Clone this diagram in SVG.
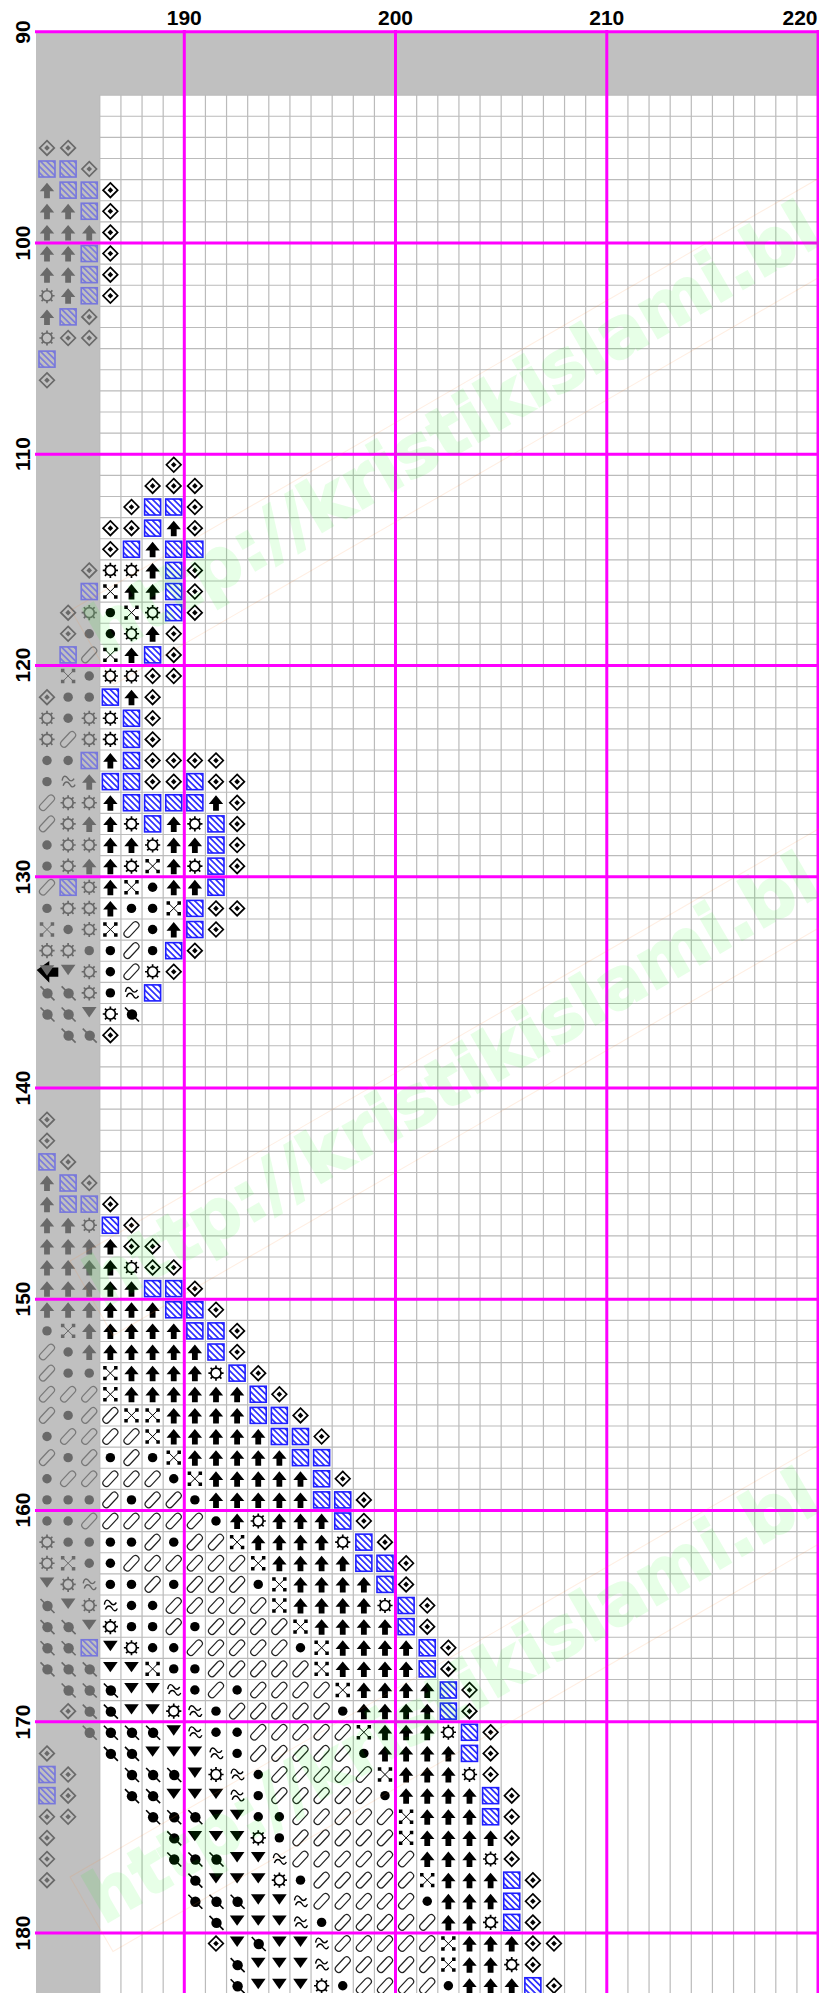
<svg xmlns="http://www.w3.org/2000/svg" width="819" height="1993" viewBox="0 0 819 1993">
<style>
text{font-family:"Liberation Sans",Arial,sans-serif;font-weight:bold;font-size:21px;fill:#000}
.wm{font-family:"DejaVu Sans",Verdana,sans-serif;font-size:70px;fill:#0f0;stroke:#0f0;stroke-width:2;opacity:.09}
.wr{fill:none;stroke:#ff8a30;stroke-width:1;opacity:.14}
.m{stroke:#f0f;stroke-width:3;fill:none}
</style>
<defs>
<pattern id="h" patternUnits="userSpaceOnUse" width="4.4" height="4.4" patternTransform="rotate(-45)"><rect width="1.7" height="4.4" fill="#2a2aff"/></pattern>
<g id="D" transform="scale(.047337)"><path d="M0-7.3 7.3 0 0 7.3-7.3 0Z" fill="#fff" fill-opacity=".0" stroke="#000" stroke-width="1.7"/><path d="M0-2.8 2.8 0 0 2.8-2.8 0Z"/></g>
<g id="B" transform="scale(.047337)"><rect x="-8" y="-8" width="16" height="16" fill="url(#h)" stroke="#1f1fff" stroke-width="1.6"/></g>
<path id="A" transform="scale(.047337)" d="M0-7.5 7.2 1.2H2.9V8H-2.9V1.2H-7.2Z"/>
<g id="S" transform="scale(.047337)"><circle r="5" fill="none" stroke="#000" stroke-width="1.7"/><path d="M0-5V-7.6M0 5V7.6M-5 0H-7.6M5 0H7.6M3.5-3.5 5.4-5.4M-3.5-3.5-5.4-5.4M3.5 3.5 5.4 5.4M-3.5 3.5-5.4 5.4" stroke="#000" stroke-width="1.7"/></g>
<g id="X" transform="scale(.047337)"><path d="M-5.5-5.5 5.5 5.5M5.5-5.5-5.5 5.5" stroke="#000" stroke-width="1"/><path d="M-7.2-7.2h3.5v3.5h-3.5zM3.7-7.2h3.5v3.5h-3.5zM-7.2 3.7h3.5v3.5h-3.5zM3.7 3.7h3.5v3.5h-3.5z"/></g>
<circle id="O" r=".224"/>
<rect id="P" transform="scale(.047337) rotate(-47)" x="-9.3" y="-3.5" width="18.6" height="7" rx="3.5" fill="none" stroke="#222" stroke-width="1.2"/>
<path id="W" transform="scale(.047337)" d="M-6-1C-5-7-2-6 0-3S4 0 6-3M-5 4C-3-1 0 0 1.5 2.5S5 7 7 3" fill="none" stroke="#000" stroke-width="1.4"/>
<path id="V" transform="scale(.047337)" d="M-7.3-7H7.3L0 3.4Z"/>
<g id="L" transform="scale(.047337)"><circle cx=".5" cy=".5" r="5.2"/><path d="M-6.5-6.5 7.5 7.5" stroke="#000" stroke-width="1.6"/></g>
</defs>
<rect width="819" height="1993" fill="#fff"/>
<path id="shade" d="M36 32H819V95H100V1993H36Z" fill="#c0c0c0"/>
<path id="grid" fill="none" stroke="#bbb" stroke-width="1.2" d="M99.8 95.1V1993m21.125-1897.9V1993m21.125-1897.9V1993m21.125-1897.9V1993m21.125-1897.9V1993m21.125-1897.9V1993m21.125-1897.9V1993m21.125-1897.9V1993m21.125-1897.9V1993m21.125-1897.9V1993m21.125-1897.9V1993m21.125-1897.9V1993m21.125-1897.9V1993m21.125-1897.9V1993m21.125-1897.9V1993m21.125-1897.9V1993m21.125-1897.9V1993m21.125-1897.9V1993m21.125-1897.9V1993m21.125-1897.9V1993m21.125-1897.9V1993m21.125-1897.9V1993m21.125-1897.9V1993m21.125-1897.9V1993m21.125-1897.9V1993m21.125-1897.9V1993m21.125-1897.9V1993m21.125-1897.9V1993m21.125-1897.9V1993m21.125-1897.9V1993m21.125-1897.9V1993m21.125-1897.9V1993m21.125-1897.9V1993m21.125-1897.9V1993m21.125-1897.9V1993M99.8 95.1H819m-719.2 21.125H819m-719.2 21.125H819m-719.2 21.125H819m-719.2 21.125H819m-719.2 21.125H819m-719.2 21.125H819m-719.2 21.125H819m-719.2 21.125H819m-719.2 21.125H819m-719.2 21.125H819m-719.2 21.125H819m-719.2 21.125H819m-719.2 21.125H819m-719.2 21.125H819m-719.2 21.125H819m-719.2 21.125H819m-719.2 21.125H819m-719.2 21.125H819m-719.2 21.125H819m-719.2 21.125H819m-719.2 21.125H819m-719.2 21.125H819m-719.2 21.125H819m-719.2 21.125H819m-719.2 21.125H819m-719.2 21.125H819m-719.2 21.125H819m-719.2 21.125H819m-719.2 21.125H819m-719.2 21.125H819m-719.2 21.125H819m-719.2 21.125H819m-719.2 21.125H819m-719.2 21.125H819m-719.2 21.125H819m-719.2 21.125H819m-719.2 21.125H819m-719.2 21.125H819m-719.2 21.125H819m-719.2 21.125H819m-719.2 21.125H819m-719.2 21.125H819m-719.2 21.125H819m-719.2 21.125H819m-719.2 21.125H819m-719.2 21.125H819m-719.2 21.125H819m-719.2 21.125H819m-719.2 21.125H819m-719.2 21.125H819m-719.2 21.125H819m-719.2 21.125H819m-719.2 21.125H819m-719.2 21.125H819m-719.2 21.125H819m-719.2 21.125H819m-719.2 21.125H819m-719.2 21.125H819m-719.2 21.125H819m-719.2 21.125H819m-719.2 21.125H819m-719.2 21.125H819m-719.2 21.125H819m-719.2 21.125H819m-719.2 21.125H819m-719.2 21.125H819m-719.2 21.125H819m-719.2 21.125H819m-719.2 21.125H819m-719.2 21.125H819m-719.2 21.125H819m-719.2 21.125H819m-719.2 21.125H819m-719.2 21.125H819m-719.2 21.125H819m-719.2 21.125H819m-719.2 21.125H819"/>
<polygon id="cursor" points="36.7,970 49.3,961 49.3,967.5 58.3,967.5 58.3,976.7 49.3,976.7 49.3,982.7"/>
<use href="#V" transform="translate(47 972.3) scale(21.125)" fill="#6a6a6a"/>
<g id="faded" opacity=".45" transform="translate(46.99 42.26) scale(21.125)">
<g transform="translate(0 5)"><use href="#D" x="0"/><use href="#D" x="1"/></g>
<g transform="translate(0 6)"><use href="#B" x="0"/><use href="#B" x="1"/><use href="#D" x="2"/></g>
<g transform="translate(0 7)"><use href="#A" x="0"/><use href="#B" x="1"/><use href="#B" x="2"/></g>
<g transform="translate(0 8)"><use href="#A" x="0"/><use href="#A" x="1"/><use href="#B" x="2"/></g>
<g transform="translate(0 9)"><use href="#A" x="0"/><use href="#A" x="1"/><use href="#A" x="2"/></g>
<g transform="translate(0 10)"><use href="#A" x="0"/><use href="#A" x="1"/><use href="#B" x="2"/></g>
<g transform="translate(0 11)"><use href="#A" x="0"/><use href="#A" x="1"/><use href="#B" x="2"/></g>
<g transform="translate(0 12)"><use href="#S" x="0"/><use href="#A" x="1"/><use href="#B" x="2"/></g>
<g transform="translate(0 13)"><use href="#A" x="0"/><use href="#B" x="1"/><use href="#D" x="2"/></g>
<g transform="translate(0 14)"><use href="#S" x="0"/><use href="#D" x="1"/><use href="#D" x="2"/></g>
<g transform="translate(0 15)"><use href="#B" x="0"/></g>
<g transform="translate(0 16)"><use href="#D" x="0"/></g>
<g transform="translate(0 25)"><use href="#D" x="2"/></g>
<g transform="translate(0 26)"><use href="#B" x="2"/></g>
<g transform="translate(0 27)"><use href="#D" x="1"/><use href="#S" x="2"/></g>
<g transform="translate(0 28)"><use href="#D" x="1"/><use href="#O" x="2"/></g>
<g transform="translate(0 29)"><use href="#B" x="1"/><use href="#P" x="2"/></g>
<g transform="translate(0 30)"><use href="#X" x="1"/><use href="#O" x="2"/></g>
<g transform="translate(0 31)"><use href="#D" x="0"/><use href="#O" x="1"/><use href="#O" x="2"/></g>
<g transform="translate(0 32)"><use href="#S" x="0"/><use href="#O" x="1"/><use href="#S" x="2"/></g>
<g transform="translate(0 33)"><use href="#S" x="0"/><use href="#P" x="1"/><use href="#S" x="2"/></g>
<g transform="translate(0 34)"><use href="#O" x="0"/><use href="#O" x="1"/><use href="#B" x="2"/></g>
<g transform="translate(0 35)"><use href="#O" x="0"/><use href="#W" x="1"/><use href="#A" x="2"/></g>
<g transform="translate(0 36)"><use href="#P" x="0"/><use href="#S" x="1"/><use href="#S" x="2"/></g>
<g transform="translate(0 37)"><use href="#P" x="0"/><use href="#S" x="1"/><use href="#A" x="2"/></g>
<g transform="translate(0 38)"><use href="#O" x="0"/><use href="#S" x="1"/><use href="#S" x="2"/></g>
<g transform="translate(0 39)"><use href="#O" x="0"/><use href="#S" x="1"/><use href="#A" x="2"/></g>
<g transform="translate(0 40)"><use href="#P" x="0"/><use href="#B" x="1"/><use href="#S" x="2"/></g>
<g transform="translate(0 41)"><use href="#O" x="0"/><use href="#S" x="1"/><use href="#S" x="2"/></g>
<g transform="translate(0 42)"><use href="#X" x="0"/><use href="#O" x="1"/><use href="#S" x="2"/></g>
<g transform="translate(0 43)"><use href="#S" x="0"/><use href="#S" x="1"/><use href="#O" x="2"/></g>
<g transform="translate(0 44)"><use href="#V" x="1"/><use href="#S" x="2"/></g>
<g transform="translate(0 45)"><use href="#L" x="0"/><use href="#L" x="1"/><use href="#S" x="2"/></g>
<g transform="translate(0 46)"><use href="#L" x="0"/><use href="#L" x="1"/><use href="#V" x="2"/></g>
<g transform="translate(0 47)"><use href="#L" x="1"/><use href="#L" x="2"/></g>
<g transform="translate(0 51)"><use href="#D" x="0"/></g>
<g transform="translate(0 52)"><use href="#D" x="0"/></g>
<g transform="translate(0 53)"><use href="#B" x="0"/><use href="#D" x="1"/></g>
<g transform="translate(0 54)"><use href="#A" x="0"/><use href="#B" x="1"/><use href="#D" x="2"/></g>
<g transform="translate(0 55)"><use href="#A" x="0"/><use href="#B" x="1"/><use href="#B" x="2"/></g>
<g transform="translate(0 56)"><use href="#A" x="0"/><use href="#A" x="1"/><use href="#S" x="2"/></g>
<g transform="translate(0 57)"><use href="#A" x="0"/><use href="#A" x="1"/><use href="#A" x="2"/></g>
<g transform="translate(0 58)"><use href="#A" x="0"/><use href="#A" x="1"/><use href="#A" x="2"/></g>
<g transform="translate(0 59)"><use href="#A" x="0"/><use href="#A" x="1"/><use href="#A" x="2"/></g>
<g transform="translate(0 60)"><use href="#A" x="0"/><use href="#A" x="1"/><use href="#A" x="2"/></g>
<g transform="translate(0 61)"><use href="#O" x="0"/><use href="#X" x="1"/><use href="#A" x="2"/></g>
<g transform="translate(0 62)"><use href="#P" x="0"/><use href="#O" x="1"/><use href="#A" x="2"/></g>
<g transform="translate(0 63)"><use href="#P" x="0"/><use href="#O" x="1"/><use href="#O" x="2"/></g>
<g transform="translate(0 64)"><use href="#P" x="0"/><use href="#P" x="1"/><use href="#P" x="2"/></g>
<g transform="translate(0 65)"><use href="#P" x="0"/><use href="#O" x="1"/><use href="#P" x="2"/></g>
<g transform="translate(0 66)"><use href="#O" x="0"/><use href="#P" x="1"/><use href="#P" x="2"/></g>
<g transform="translate(0 67)"><use href="#P" x="0"/><use href="#O" x="1"/><use href="#P" x="2"/></g>
<g transform="translate(0 68)"><use href="#O" x="0"/><use href="#P" x="1"/><use href="#P" x="2"/></g>
<g transform="translate(0 69)"><use href="#O" x="0"/><use href="#O" x="1"/><use href="#O" x="2"/></g>
<g transform="translate(0 70)"><use href="#O" x="0"/><use href="#O" x="1"/><use href="#P" x="2"/></g>
<g transform="translate(0 71)"><use href="#S" x="0"/><use href="#O" x="1"/><use href="#O" x="2"/></g>
<g transform="translate(0 72)"><use href="#S" x="0"/><use href="#X" x="1"/><use href="#O" x="2"/></g>
<g transform="translate(0 73)"><use href="#V" x="0"/><use href="#S" x="1"/><use href="#W" x="2"/></g>
<g transform="translate(0 74)"><use href="#L" x="0"/><use href="#V" x="1"/><use href="#S" x="2"/></g>
<g transform="translate(0 75)"><use href="#L" x="0"/><use href="#L" x="1"/><use href="#V" x="2"/></g>
<g transform="translate(0 76)"><use href="#L" x="0"/><use href="#L" x="1"/><use href="#B" x="2"/></g>
<g transform="translate(0 77)"><use href="#L" x="0"/><use href="#L" x="1"/><use href="#L" x="2"/></g>
<g transform="translate(0 78)"><use href="#L" x="1"/><use href="#L" x="2"/></g>
<g transform="translate(0 79)"><use href="#D" x="1"/><use href="#L" x="2"/></g>
<g transform="translate(0 80)"><use href="#L" x="2"/></g>
<g transform="translate(0 81)"><use href="#D" x="0"/></g>
<g transform="translate(0 82)"><use href="#B" x="0"/><use href="#D" x="1"/></g>
<g transform="translate(0 83)"><use href="#B" x="0"/><use href="#D" x="1"/></g>
<g transform="translate(0 84)"><use href="#D" x="0"/><use href="#D" x="1"/></g>
<g transform="translate(0 85)"><use href="#D" x="0"/></g>
<g transform="translate(0 86)"><use href="#D" x="0"/></g>
<g transform="translate(0 87)"><use href="#D" x="0"/></g>
</g>
<g id="symbols" transform="translate(46.99 42.26) scale(21.125)">
<g transform="translate(0 7)"><use href="#D" x="3"/></g>
<g transform="translate(0 8)"><use href="#D" x="3"/></g>
<g transform="translate(0 9)"><use href="#D" x="3"/></g>
<g transform="translate(0 10)"><use href="#D" x="3"/></g>
<g transform="translate(0 11)"><use href="#D" x="3"/></g>
<g transform="translate(0 12)"><use href="#D" x="3"/></g>
<g transform="translate(0 20)"><use href="#D" x="6"/></g>
<g transform="translate(0 21)"><use href="#D" x="5"/><use href="#D" x="6"/><use href="#D" x="7"/></g>
<g transform="translate(0 22)"><use href="#D" x="4"/><use href="#B" x="5"/><use href="#B" x="6"/><use href="#D" x="7"/></g>
<g transform="translate(0 23)"><use href="#D" x="3"/><use href="#D" x="4"/><use href="#B" x="5"/><use href="#A" x="6"/><use href="#D" x="7"/></g>
<g transform="translate(0 24)"><use href="#D" x="3"/><use href="#B" x="4"/><use href="#A" x="5"/><use href="#B" x="6"/><use href="#B" x="7"/></g>
<g transform="translate(0 25)"><use href="#S" x="3"/><use href="#S" x="4"/><use href="#A" x="5"/><use href="#B" x="6"/><use href="#D" x="7"/></g>
<g transform="translate(0 26)"><use href="#X" x="3"/><use href="#A" x="4"/><use href="#A" x="5"/><use href="#B" x="6"/><use href="#D" x="7"/></g>
<g transform="translate(0 27)"><use href="#O" x="3"/><use href="#X" x="4"/><use href="#S" x="5"/><use href="#B" x="6"/><use href="#D" x="7"/></g>
<g transform="translate(0 28)"><use href="#O" x="3"/><use href="#S" x="4"/><use href="#A" x="5"/><use href="#D" x="6"/></g>
<g transform="translate(0 29)"><use href="#X" x="3"/><use href="#A" x="4"/><use href="#B" x="5"/><use href="#D" x="6"/></g>
<g transform="translate(0 30)"><use href="#S" x="3"/><use href="#S" x="4"/><use href="#D" x="5"/><use href="#D" x="6"/></g>
<g transform="translate(0 31)"><use href="#B" x="3"/><use href="#A" x="4"/><use href="#D" x="5"/></g>
<g transform="translate(0 32)"><use href="#S" x="3"/><use href="#B" x="4"/><use href="#D" x="5"/></g>
<g transform="translate(0 33)"><use href="#S" x="3"/><use href="#B" x="4"/><use href="#D" x="5"/></g>
<g transform="translate(0 34)"><use href="#A" x="3"/><use href="#B" x="4"/><use href="#D" x="5"/><use href="#D" x="6"/><use href="#D" x="7"/><use href="#D" x="8"/></g>
<g transform="translate(0 35)"><use href="#B" x="3"/><use href="#B" x="4"/><use href="#D" x="5"/><use href="#D" x="6"/><use href="#B" x="7"/><use href="#D" x="8"/><use href="#D" x="9"/></g>
<g transform="translate(0 36)"><use href="#A" x="3"/><use href="#B" x="4"/><use href="#B" x="5"/><use href="#B" x="6"/><use href="#B" x="7"/><use href="#A" x="8"/><use href="#D" x="9"/></g>
<g transform="translate(0 37)"><use href="#A" x="3"/><use href="#S" x="4"/><use href="#B" x="5"/><use href="#A" x="6"/><use href="#S" x="7"/><use href="#B" x="8"/><use href="#D" x="9"/></g>
<g transform="translate(0 38)"><use href="#A" x="3"/><use href="#A" x="4"/><use href="#S" x="5"/><use href="#A" x="6"/><use href="#A" x="7"/><use href="#B" x="8"/><use href="#D" x="9"/></g>
<g transform="translate(0 39)"><use href="#A" x="3"/><use href="#S" x="4"/><use href="#X" x="5"/><use href="#A" x="6"/><use href="#S" x="7"/><use href="#B" x="8"/><use href="#D" x="9"/></g>
<g transform="translate(0 40)"><use href="#A" x="3"/><use href="#X" x="4"/><use href="#O" x="5"/><use href="#A" x="6"/><use href="#A" x="7"/><use href="#B" x="8"/></g>
<g transform="translate(0 41)"><use href="#A" x="3"/><use href="#O" x="4"/><use href="#O" x="5"/><use href="#X" x="6"/><use href="#B" x="7"/><use href="#D" x="8"/><use href="#D" x="9"/></g>
<g transform="translate(0 42)"><use href="#X" x="3"/><use href="#P" x="4"/><use href="#O" x="5"/><use href="#A" x="6"/><use href="#B" x="7"/><use href="#D" x="8"/></g>
<g transform="translate(0 43)"><use href="#O" x="3"/><use href="#P" x="4"/><use href="#O" x="5"/><use href="#B" x="6"/><use href="#D" x="7"/></g>
<g transform="translate(0 44)"><use href="#O" x="3"/><use href="#P" x="4"/><use href="#S" x="5"/><use href="#D" x="6"/></g>
<g transform="translate(0 45)"><use href="#O" x="3"/><use href="#W" x="4"/><use href="#B" x="5"/></g>
<g transform="translate(0 46)"><use href="#S" x="3"/><use href="#L" x="4"/></g>
<g transform="translate(0 47)"><use href="#D" x="3"/></g>
<g transform="translate(0 55)"><use href="#D" x="3"/></g>
<g transform="translate(0 56)"><use href="#B" x="3"/><use href="#D" x="4"/></g>
<g transform="translate(0 57)"><use href="#A" x="3"/><use href="#D" x="4"/><use href="#D" x="5"/></g>
<g transform="translate(0 58)"><use href="#A" x="3"/><use href="#S" x="4"/><use href="#D" x="5"/><use href="#D" x="6"/></g>
<g transform="translate(0 59)"><use href="#A" x="3"/><use href="#A" x="4"/><use href="#B" x="5"/><use href="#B" x="6"/><use href="#D" x="7"/></g>
<g transform="translate(0 60)"><use href="#A" x="3"/><use href="#A" x="4"/><use href="#A" x="5"/><use href="#B" x="6"/><use href="#B" x="7"/><use href="#D" x="8"/></g>
<g transform="translate(0 61)"><use href="#A" x="3"/><use href="#A" x="4"/><use href="#A" x="5"/><use href="#A" x="6"/><use href="#B" x="7"/><use href="#B" x="8"/><use href="#D" x="9"/></g>
<g transform="translate(0 62)"><use href="#A" x="3"/><use href="#A" x="4"/><use href="#A" x="5"/><use href="#A" x="6"/><use href="#A" x="7"/><use href="#B" x="8"/><use href="#D" x="9"/></g>
<g transform="translate(0 63)"><use href="#X" x="3"/><use href="#A" x="4"/><use href="#A" x="5"/><use href="#A" x="6"/><use href="#A" x="7"/><use href="#S" x="8"/><use href="#B" x="9"/><use href="#D" x="10"/></g>
<g transform="translate(0 64)"><use href="#X" x="3"/><use href="#A" x="4"/><use href="#A" x="5"/><use href="#A" x="6"/><use href="#A" x="7"/><use href="#A" x="8"/><use href="#A" x="9"/><use href="#B" x="10"/><use href="#D" x="11"/></g>
<g transform="translate(0 65)"><use href="#P" x="3"/><use href="#X" x="4"/><use href="#X" x="5"/><use href="#A" x="6"/><use href="#A" x="7"/><use href="#A" x="8"/><use href="#A" x="9"/><use href="#B" x="10"/><use href="#B" x="11"/><use href="#D" x="12"/></g>
<g transform="translate(0 66)"><use href="#P" x="3"/><use href="#P" x="4"/><use href="#X" x="5"/><use href="#A" x="6"/><use href="#A" x="7"/><use href="#A" x="8"/><use href="#A" x="9"/><use href="#A" x="10"/><use href="#B" x="11"/><use href="#B" x="12"/><use href="#D" x="13"/></g>
<g transform="translate(0 67)"><use href="#O" x="3"/><use href="#P" x="4"/><use href="#O" x="5"/><use href="#X" x="6"/><use href="#A" x="7"/><use href="#A" x="8"/><use href="#A" x="9"/><use href="#A" x="10"/><use href="#A" x="11"/><use href="#B" x="12"/><use href="#B" x="13"/></g>
<g transform="translate(0 68)"><use href="#P" x="3"/><use href="#P" x="4"/><use href="#P" x="5"/><use href="#O" x="6"/><use href="#X" x="7"/><use href="#A" x="8"/><use href="#A" x="9"/><use href="#A" x="10"/><use href="#A" x="11"/><use href="#A" x="12"/><use href="#B" x="13"/><use href="#D" x="14"/></g>
<g transform="translate(0 69)"><use href="#P" x="3"/><use href="#O" x="4"/><use href="#P" x="5"/><use href="#P" x="6"/><use href="#O" x="7"/><use href="#A" x="8"/><use href="#A" x="9"/><use href="#A" x="10"/><use href="#A" x="11"/><use href="#A" x="12"/><use href="#B" x="13"/><use href="#B" x="14"/><use href="#D" x="15"/></g>
<g transform="translate(0 70)"><use href="#P" x="3"/><use href="#P" x="4"/><use href="#P" x="5"/><use href="#P" x="6"/><use href="#P" x="7"/><use href="#O" x="8"/><use href="#A" x="9"/><use href="#S" x="10"/><use href="#A" x="11"/><use href="#A" x="12"/><use href="#A" x="13"/><use href="#B" x="14"/><use href="#D" x="15"/></g>
<g transform="translate(0 71)"><use href="#O" x="3"/><use href="#O" x="4"/><use href="#P" x="5"/><use href="#O" x="6"/><use href="#P" x="7"/><use href="#P" x="8"/><use href="#X" x="9"/><use href="#A" x="10"/><use href="#A" x="11"/><use href="#A" x="12"/><use href="#A" x="13"/><use href="#S" x="14"/><use href="#B" x="15"/><use href="#D" x="16"/></g>
<g transform="translate(0 72)"><use href="#O" x="3"/><use href="#P" x="4"/><use href="#P" x="5"/><use href="#P" x="6"/><use href="#P" x="7"/><use href="#P" x="8"/><use href="#P" x="9"/><use href="#X" x="10"/><use href="#A" x="11"/><use href="#A" x="12"/><use href="#A" x="13"/><use href="#A" x="14"/><use href="#B" x="15"/><use href="#B" x="16"/><use href="#D" x="17"/></g>
<g transform="translate(0 73)"><use href="#O" x="3"/><use href="#O" x="4"/><use href="#P" x="5"/><use href="#O" x="6"/><use href="#P" x="7"/><use href="#P" x="8"/><use href="#P" x="9"/><use href="#O" x="10"/><use href="#X" x="11"/><use href="#A" x="12"/><use href="#A" x="13"/><use href="#A" x="14"/><use href="#A" x="15"/><use href="#B" x="16"/><use href="#D" x="17"/></g>
<g transform="translate(0 74)"><use href="#W" x="3"/><use href="#O" x="4"/><use href="#O" x="5"/><use href="#P" x="6"/><use href="#P" x="7"/><use href="#P" x="8"/><use href="#P" x="9"/><use href="#P" x="10"/><use href="#X" x="11"/><use href="#A" x="12"/><use href="#A" x="13"/><use href="#A" x="14"/><use href="#A" x="15"/><use href="#S" x="16"/><use href="#B" x="17"/><use href="#D" x="18"/></g>
<g transform="translate(0 75)"><use href="#S" x="3"/><use href="#O" x="4"/><use href="#O" x="5"/><use href="#P" x="6"/><use href="#O" x="7"/><use href="#P" x="8"/><use href="#P" x="9"/><use href="#P" x="10"/><use href="#P" x="11"/><use href="#X" x="12"/><use href="#A" x="13"/><use href="#A" x="14"/><use href="#A" x="15"/><use href="#A" x="16"/><use href="#B" x="17"/><use href="#D" x="18"/></g>
<g transform="translate(0 76)"><use href="#V" x="3"/><use href="#S" x="4"/><use href="#O" x="5"/><use href="#O" x="6"/><use href="#P" x="7"/><use href="#P" x="8"/><use href="#P" x="9"/><use href="#P" x="10"/><use href="#P" x="11"/><use href="#O" x="12"/><use href="#X" x="13"/><use href="#A" x="14"/><use href="#A" x="15"/><use href="#A" x="16"/><use href="#A" x="17"/><use href="#B" x="18"/><use href="#D" x="19"/></g>
<g transform="translate(0 77)"><use href="#V" x="3"/><use href="#V" x="4"/><use href="#X" x="5"/><use href="#O" x="6"/><use href="#O" x="7"/><use href="#P" x="8"/><use href="#P" x="9"/><use href="#P" x="10"/><use href="#P" x="11"/><use href="#P" x="12"/><use href="#X" x="13"/><use href="#A" x="14"/><use href="#A" x="15"/><use href="#A" x="16"/><use href="#A" x="17"/><use href="#B" x="18"/><use href="#D" x="19"/></g>
<g transform="translate(0 78)"><use href="#L" x="3"/><use href="#V" x="4"/><use href="#V" x="5"/><use href="#W" x="6"/><use href="#O" x="7"/><use href="#P" x="8"/><use href="#O" x="9"/><use href="#P" x="10"/><use href="#P" x="11"/><use href="#P" x="12"/><use href="#P" x="13"/><use href="#X" x="14"/><use href="#A" x="15"/><use href="#A" x="16"/><use href="#A" x="17"/><use href="#A" x="18"/><use href="#B" x="19"/><use href="#D" x="20"/></g>
<g transform="translate(0 79)"><use href="#L" x="3"/><use href="#V" x="4"/><use href="#V" x="5"/><use href="#S" x="6"/><use href="#W" x="7"/><use href="#O" x="8"/><use href="#P" x="9"/><use href="#P" x="10"/><use href="#P" x="11"/><use href="#P" x="12"/><use href="#P" x="13"/><use href="#O" x="14"/><use href="#A" x="15"/><use href="#A" x="16"/><use href="#A" x="17"/><use href="#A" x="18"/><use href="#B" x="19"/><use href="#D" x="20"/></g>
<g transform="translate(0 80)"><use href="#L" x="3"/><use href="#L" x="4"/><use href="#L" x="5"/><use href="#V" x="6"/><use href="#W" x="7"/><use href="#O" x="8"/><use href="#O" x="9"/><use href="#P" x="10"/><use href="#P" x="11"/><use href="#P" x="12"/><use href="#P" x="13"/><use href="#P" x="14"/><use href="#X" x="15"/><use href="#A" x="16"/><use href="#A" x="17"/><use href="#A" x="18"/><use href="#S" x="19"/><use href="#B" x="20"/><use href="#D" x="21"/></g>
<g transform="translate(0 81)"><use href="#L" x="3"/><use href="#L" x="4"/><use href="#V" x="5"/><use href="#V" x="6"/><use href="#V" x="7"/><use href="#W" x="8"/><use href="#O" x="9"/><use href="#P" x="10"/><use href="#P" x="11"/><use href="#P" x="12"/><use href="#P" x="13"/><use href="#P" x="14"/><use href="#O" x="15"/><use href="#A" x="16"/><use href="#A" x="17"/><use href="#A" x="18"/><use href="#A" x="19"/><use href="#B" x="20"/><use href="#D" x="21"/></g>
<g transform="translate(0 82)"><use href="#L" x="4"/><use href="#L" x="5"/><use href="#L" x="6"/><use href="#V" x="7"/><use href="#S" x="8"/><use href="#W" x="9"/><use href="#O" x="10"/><use href="#P" x="11"/><use href="#P" x="12"/><use href="#P" x="13"/><use href="#P" x="14"/><use href="#P" x="15"/><use href="#X" x="16"/><use href="#A" x="17"/><use href="#A" x="18"/><use href="#A" x="19"/><use href="#S" x="20"/><use href="#D" x="21"/></g>
<g transform="translate(0 83)"><use href="#L" x="4"/><use href="#L" x="5"/><use href="#V" x="6"/><use href="#V" x="7"/><use href="#V" x="8"/><use href="#W" x="9"/><use href="#O" x="10"/><use href="#P" x="11"/><use href="#P" x="12"/><use href="#P" x="13"/><use href="#P" x="14"/><use href="#P" x="15"/><use href="#O" x="16"/><use href="#A" x="17"/><use href="#A" x="18"/><use href="#A" x="19"/><use href="#A" x="20"/><use href="#B" x="21"/><use href="#D" x="22"/></g>
<g transform="translate(0 84)"><use href="#L" x="5"/><use href="#L" x="6"/><use href="#L" x="7"/><use href="#V" x="8"/><use href="#V" x="9"/><use href="#O" x="10"/><use href="#O" x="11"/><use href="#P" x="12"/><use href="#P" x="13"/><use href="#P" x="14"/><use href="#P" x="15"/><use href="#P" x="16"/><use href="#X" x="17"/><use href="#A" x="18"/><use href="#A" x="19"/><use href="#A" x="20"/><use href="#B" x="21"/><use href="#D" x="22"/></g>
<g transform="translate(0 85)"><use href="#L" x="6"/><use href="#V" x="7"/><use href="#V" x="8"/><use href="#V" x="9"/><use href="#S" x="10"/><use href="#O" x="11"/><use href="#P" x="12"/><use href="#P" x="13"/><use href="#P" x="14"/><use href="#P" x="15"/><use href="#P" x="16"/><use href="#X" x="17"/><use href="#A" x="18"/><use href="#A" x="19"/><use href="#A" x="20"/><use href="#A" x="21"/><use href="#D" x="22"/></g>
<g transform="translate(0 86)"><use href="#L" x="6"/><use href="#L" x="7"/><use href="#L" x="8"/><use href="#V" x="9"/><use href="#V" x="10"/><use href="#W" x="11"/><use href="#P" x="12"/><use href="#P" x="13"/><use href="#P" x="14"/><use href="#P" x="15"/><use href="#P" x="16"/><use href="#P" x="17"/><use href="#A" x="18"/><use href="#A" x="19"/><use href="#A" x="20"/><use href="#S" x="21"/><use href="#D" x="22"/></g>
<g transform="translate(0 87)"><use href="#L" x="7"/><use href="#V" x="8"/><use href="#V" x="9"/><use href="#V" x="10"/><use href="#S" x="11"/><use href="#O" x="12"/><use href="#P" x="13"/><use href="#P" x="14"/><use href="#P" x="15"/><use href="#P" x="16"/><use href="#P" x="17"/><use href="#X" x="18"/><use href="#A" x="19"/><use href="#A" x="20"/><use href="#A" x="21"/><use href="#B" x="22"/><use href="#D" x="23"/></g>
<g transform="translate(0 88)"><use href="#L" x="7"/><use href="#L" x="8"/><use href="#L" x="9"/><use href="#V" x="10"/><use href="#V" x="11"/><use href="#W" x="12"/><use href="#P" x="13"/><use href="#P" x="14"/><use href="#P" x="15"/><use href="#P" x="16"/><use href="#P" x="17"/><use href="#O" x="18"/><use href="#A" x="19"/><use href="#A" x="20"/><use href="#A" x="21"/><use href="#B" x="22"/><use href="#D" x="23"/></g>
<g transform="translate(0 89)"><use href="#L" x="8"/><use href="#V" x="9"/><use href="#V" x="10"/><use href="#V" x="11"/><use href="#W" x="12"/><use href="#O" x="13"/><use href="#P" x="14"/><use href="#P" x="15"/><use href="#P" x="16"/><use href="#P" x="17"/><use href="#P" x="18"/><use href="#A" x="19"/><use href="#A" x="20"/><use href="#S" x="21"/><use href="#B" x="22"/><use href="#D" x="23"/></g>
<g transform="translate(0 90)"><use href="#D" x="8"/><use href="#V" x="9"/><use href="#L" x="10"/><use href="#V" x="11"/><use href="#V" x="12"/><use href="#W" x="13"/><use href="#P" x="14"/><use href="#P" x="15"/><use href="#P" x="16"/><use href="#P" x="17"/><use href="#P" x="18"/><use href="#X" x="19"/><use href="#A" x="20"/><use href="#A" x="21"/><use href="#A" x="22"/><use href="#D" x="23"/><use href="#D" x="24"/></g>
<g transform="translate(0 91)"><use href="#L" x="9"/><use href="#V" x="10"/><use href="#V" x="11"/><use href="#V" x="12"/><use href="#W" x="13"/><use href="#P" x="14"/><use href="#P" x="15"/><use href="#P" x="16"/><use href="#P" x="17"/><use href="#P" x="18"/><use href="#X" x="19"/><use href="#A" x="20"/><use href="#A" x="21"/><use href="#S" x="22"/><use href="#D" x="23"/></g>
<g transform="translate(0 92)"><use href="#L" x="9"/><use href="#V" x="10"/><use href="#V" x="11"/><use href="#V" x="12"/><use href="#S" x="13"/><use href="#O" x="14"/><use href="#P" x="15"/><use href="#P" x="16"/><use href="#P" x="17"/><use href="#P" x="18"/><use href="#O" x="19"/><use href="#A" x="20"/><use href="#A" x="21"/><use href="#A" x="22"/><use href="#B" x="23"/><use href="#D" x="24"/></g>
</g>
<path id="lines" class="m" d="M35 31.7H819M35 242.9H819M35 454.2H819M35 665.4H819M35 876.7H819M35 1087.9H819M35 1299.2H819M35 1510.4H819M35 1721.7H819M35 1932.9H819M184.3 30V1993M395.5 30V1993M606.8 30V1993M818 30V1993"/>
<g id="labels">
<text x="184.3" y="25" text-anchor="middle">190</text>
<text x="395.5" y="25" text-anchor="middle">200</text>
<text x="606.8" y="25" text-anchor="middle">210</text>
<text x="817.5" y="25" text-anchor="end">220</text>
<text transform="translate(30 32) rotate(-90)" text-anchor="middle">90</text>
<text transform="translate(30 243) rotate(-90)" text-anchor="middle">100</text>
<text transform="translate(30 454) rotate(-90)" text-anchor="middle">110</text>
<text transform="translate(30 665) rotate(-90)" text-anchor="middle">120</text>
<text transform="translate(30 877) rotate(-90)" text-anchor="middle">130</text>
<text transform="translate(30 1088) rotate(-90)" text-anchor="middle">140</text>
<text transform="translate(30 1299) rotate(-90)" text-anchor="middle">150</text>
<text transform="translate(30 1510) rotate(-90)" text-anchor="middle">160</text>
<text transform="translate(30 1722) rotate(-90)" text-anchor="middle">170</text>
<text transform="translate(30 1933) rotate(-90)" text-anchor="middle">180</text>
</g>
<g id="watermark">
<g transform="translate(71 610) rotate(-30)"><rect class="wr" width="1000" height="86"/><text class="wm" x="5" y="58">http://kristikislami.bl</text></g>
<g transform="translate(70 1261) rotate(-30)"><rect class="wr" width="1000" height="86"/><text class="wm" x="5" y="58">http://kristikislami.bl</text></g>
<g transform="translate(70 1877) rotate(-30)"><rect class="wr" width="1000" height="86"/><text class="wm" x="5" y="58">http://kristikislami.bl</text></g>
</g>
</svg>
